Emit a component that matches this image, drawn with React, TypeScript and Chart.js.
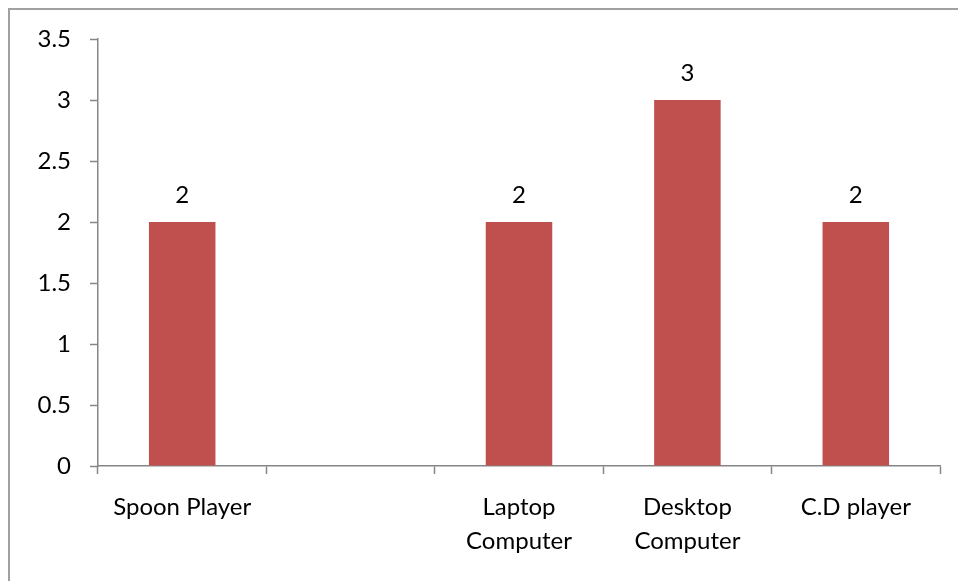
import React, { useEffect, useRef } from "react";
import { Chart, registerables } from "chart.js";

Chart.register(...registerables);

const categories: (string | string[])[] = [
  "Spoon Player",
  "",
  ["Laptop", "Computer"],
  ["Desktop", "Computer"],
  "C.D player",
];
const values: (number | null)[] = [2, null, 2, 3, 2];
const yTicks = [0, 0.5, 1, 1.5, 2, 2.5, 3, 3.5];

const FONT = "Lato, 'Open Sans', sans-serif";
const FONT_SIZE = 24;

const valueLabels = {
  id: "valueLabels",
  afterDatasetsDraw(chart: any) {
    const ctx = chart.ctx;
    const meta = chart.getDatasetMeta(0);
    ctx.save();
    ctx.font = `${FONT_SIZE}px ${FONT}`;
    ctx.fillStyle = "#000";
    ctx.textAlign = "center";
    ctx.textBaseline = "middle";
    meta.data.forEach((bar: any, i: number) => {
      const v = values[i];
      if (v === null || v === undefined) return;
      ctx.fillText(String(v), bar.x, bar.y - 27);
    });
    ctx.restore();
  },
};

export default function App() {
  const ref = useRef<HTMLCanvasElement>(null);
  useEffect(() => {
    if (!ref.current) return;
    const chart = new Chart(ref.current, {
      type: "bar",
      data: {
        labels: categories,
        datasets: [
          {
            data: values,
            backgroundColor: "#C0504D",
            borderWidth: 0,
            categoryPercentage: 0.79,
            barPercentage: 0.5,
          },
        ],
      },
      options: {
        animation: false,
        responsive: false,
        maintainAspectRatio: false,
        layout: { padding: { top: 29, right: 18, left: 0, bottom: 0 } },
        plugins: {
          legend: { display: false },
          tooltip: { enabled: false },
        },
        scales: {
          x: {
            offset: true,
            grid: {
              offset: true,
              drawOnChartArea: false,
              drawTicks: true,
              tickLength: 8,
              tickWidth: 1.5,
              color: "#868686",
            },
            border: { display: true, color: "#868686", width: 1.5 },
            ticks: {
              color: "#000",
              font: { family: FONT, size: FONT_SIZE, lineHeight: 1.42 },
              padding: 16,
              maxRotation: 0,
              autoSkip: false,
            },
            afterFit(scale: any) {
              scale.height = 115;
            },
          },
          y: {
            min: 0,
            max: 3.5,
            afterBuildTicks(scale: any) {
              scale.ticks = yTicks.map((v) => ({ value: v }));
            },
            grid: {
              drawOnChartArea: false,
              drawTicks: true,
              tickLength: 8,
              tickWidth: 1.5,
              color: "#868686",
            },
            border: { display: true, color: "#868686", width: 1.5 },
            ticks: {
              color: "#000",
              font: { family: FONT, size: FONT_SIZE },
              padding: 19,
              callback: (v: any) => String(Number(v)),
            },
            afterFit(scale: any) {
              scale.width = 88;
              scale.paddingTop = 0;
              scale.paddingBottom = 0;
            },
          },
        },
      },
      plugins: [valueLabels],
    });
    return () => chart.destroy();
  }, []);
  return (
    <div
      style={{
        position: "fixed",
        left: 8,
        top: 8,
        width: 948,
        height: 571,
        borderLeft: "2px solid #a0a0a0",
        borderTop: "2px solid #a0a0a0",
        overflow: "hidden",
        background: "#fff",
      }}
    >
      <canvas ref={ref} width={948} height={571} style={{ display: "block" }} />
    </div>
  );
}
